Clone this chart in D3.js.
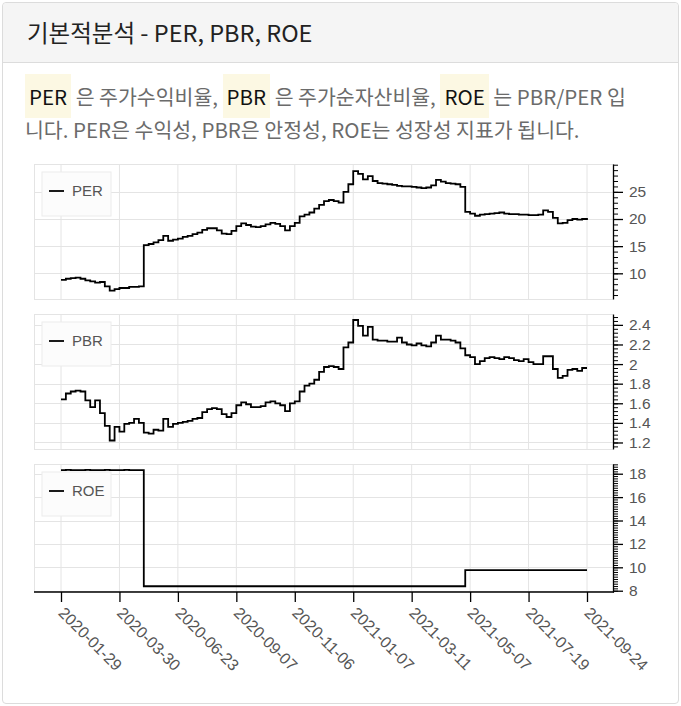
<!DOCTYPE html>
<html><head><meta charset="utf-8">
<script src="https://cdn.jsdelivr.net/npm/d3@7"></script>
<style>
html,body{margin:0;padding:0;background:#fff;}
body{width:681px;height:706px;position:relative;overflow:hidden;font-family:"Noto Sans CJK KR","Noto Sans",sans-serif;}
#card{position:absolute;left:2px;top:2px;width:675px;height:700px;border:1px solid #dcdcdc;border-radius:4px;}
#hdr{height:59px;background:#f5f5f5;border-bottom:1px solid #dcdcdc;border-radius:4px 4px 0 0;font-size:23.5px;line-height:59px;padding-left:24px;color:#222;white-space:nowrap;}
#para{position:absolute;left:22px;top:77px;font-size:20.5px;color:#6b6b6b;}
.ln{height:33px;line-height:33px;white-space:nowrap;}
.hl{background:#fcf8e3;color:#111;padding:7px 4px;}
svg{position:absolute;left:0;top:0;}
</style></head>
<body>
<div id="card">
  <div id="hdr">기본적분석 - PER, PBR, ROE</div>
  <div id="para">
    <div class="ln"><span class="hl">PER</span> 은 주가수익비율, <span class="hl">PBR</span> 은 주가순자산비율, <span class="hl">ROE</span> 는 PBR/PER 입</div>
    <div class="ln">니다. PER은 수익성, PBR은 안정성, ROE는 성장성 지표가 됩니다.</div>
  </div>
</div>
<svg id="chart" width="681" height="706"></svg>
<script>
// ---- data (one value per sampled trading day) ----
const dateLabels = ["2020-01-29","2020-03-30","2020-06-23","2020-09-07","2020-11-06","2021-01-07","2021-03-11","2021-05-07","2021-07-19","2021-09-24"];
const perValues = [8.8,9.0,9.1,9.2,9.0,8.7,8.5,8.3,8.4,7.6,
6.8,7.1,7.3,7.3,7.5,7.5,7.6,15.2,15.4,15.7,
16.1,16.9,16.0,16.2,16.4,16.7,16.9,17.2,17.5,18.0,
18.3,18.3,17.9,17.3,17.2,17.8,18.7,19.2,18.9,18.6,
18.5,18.7,19.0,19.3,19.1,18.7,17.9,18.7,19.3,20.5,
20.8,21.2,21.9,22.6,23.3,23.5,23.3,23.0,25.0,26.4,
28.8,28.3,27.3,27.9,27.0,26.6,26.5,26.4,26.3,26.1,
26.0,26.0,25.9,25.8,25.7,25.8,26.2,27.2,26.9,26.6,
26.5,26.4,25.9,21.3,21.0,20.6,20.8,20.9,21.0,21.1,
21.2,21.0,20.9,20.9,20.8,20.8,20.7,20.7,20.8,21.6,
21.3,20.2,19.2,19.3,19.8,20.0,19.9,20.0,20.2];
const pbrValues = [1.64,1.70,1.72,1.73,1.72,1.63,1.56,1.63,1.50,1.37,
1.22,1.36,1.31,1.39,1.40,1.44,1.40,1.30,1.29,1.33,
1.32,1.44,1.36,1.39,1.40,1.41,1.42,1.44,1.45,1.51,
1.54,1.55,1.54,1.49,1.46,1.50,1.58,1.61,1.59,1.56,
1.56,1.57,1.61,1.62,1.60,1.58,1.52,1.60,1.62,1.72,
1.78,1.80,1.84,1.92,1.97,1.98,1.97,1.95,2.17,2.22,
2.45,2.39,2.29,2.38,2.25,2.24,2.24,2.23,2.23,2.27,
2.22,2.20,2.19,2.21,2.19,2.18,2.22,2.29,2.25,2.25,
2.24,2.22,2.16,2.09,2.07,2.00,2.03,2.06,2.07,2.06,
2.05,2.07,2.06,2.04,2.03,2.05,2.02,2.00,2.00,2.08,
2.08,1.95,1.86,1.88,1.94,1.95,1.93,1.96,1.96];
const roeValues = [18.3,18.32,18.3,18.31,18.3,18.32,18.3,18.31,18.3,18.32,
18.3,18.31,18.3,18.32,18.3,18.31,18.3,8.38,8.38,8.38,
8.38,8.38,8.38,8.38,8.38,8.38,8.38,8.38,8.38,8.38,
8.38,8.38,8.38,8.38,8.38,8.38,8.38,8.38,8.38,8.38,
8.38,8.38,8.38,8.38,8.38,8.38,8.38,8.38,8.38,8.38,
8.38,8.38,8.38,8.38,8.38,8.38,8.38,8.38,8.38,8.38,
8.38,8.38,8.38,8.38,8.38,8.38,8.38,8.38,8.38,8.38,
8.38,8.38,8.38,8.38,8.38,8.38,8.38,8.38,8.38,8.38,
8.38,8.38,8.38,9.76,9.76,9.76,9.76,9.76,9.76,9.76,
9.76,9.76,9.76,9.76,9.76,9.76,9.76,9.76,9.76,9.76,
9.76,9.76,9.76,9.76,9.76,9.76,9.76,9.76,9.76];
const perTicks = [10,15,20,25];
const pbrTicks = [1.2,1.4,1.6,1.8,2,2.2,2.4];
const roeTicks = [8,10,12,14,16,18];

// ---- layout ----
const svg = d3.select("#chart");
const X0 = 34, X1 = 613;
const step = (perValues.length - 1) / (dateLabels.length - 1);
const tickIdx = dateLabels.map((d,i) => i*step);
const x = d3.scaleLinear().domain([0, perValues.length-1]).range([61, 587]);
const gridColor = "#e4e4e4";
const FONT = "'Liberation Sans', Arial, sans-serif";

const panels = [
  {name:"PER", data:perValues, top:164, bottom:299, domain:[5.27,30.13], ticks:perTicks, minor:1, fmt:d3.format("d")},
  {name:"PBR", data:pbrValues, top:314, bottom:449, domain:[1.1335,2.511], ticks:pbrTicks, minor:0.04, fmt:d=>String(+d.toFixed(1))},
  {name:"ROE", data:roeValues, top:464, bottom:592, domain:[7.89,18.83], ticks:roeTicks, minor:0.2, fmt:d3.format("d")}
];

panels.forEach((p, pi) => {
  const y = d3.scaleLinear().domain(p.domain).range([p.bottom, p.top]);
  const g = svg.append("g");
  g.selectAll(".vg").data(tickIdx).join("line")
    .attr("x1", d=>x(d)).attr("x2", d=>x(d)).attr("y1", p.top).attr("y2", p.bottom)
    .attr("stroke", gridColor).attr("stroke-width", 1);
  g.selectAll(".hg").data(p.ticks).join("line")
    .attr("x1", X0).attr("x2", X1).attr("y1", d=>Math.round(y(d))+0.5).attr("y2", d=>Math.round(y(d))+0.5)
    .attr("stroke", gridColor).attr("stroke-width", 1);
  g.append("line").attr("x1", X0).attr("x2", X1).attr("y1", p.top+0.5).attr("y2", p.top+0.5).attr("stroke", gridColor);
  g.append("line").attr("x1", X0+0.5).attr("x2", X0+0.5).attr("y1", p.top).attr("y2", p.bottom).attr("stroke", gridColor);
  if (pi < 2) g.append("line").attr("x1", X0).attr("x2", X1).attr("y1", p.bottom+0.5).attr("y2", p.bottom+0.5).attr("stroke", gridColor);

  const line = d3.line().x((d,i)=>x(i)).y(d=>y(d)).curve(d3.curveStepAfter);
  g.append("path").datum(p.data).attr("d", line)
    .attr("fill","none").attr("stroke","#000").attr("stroke-width",1.8).attr("stroke-linejoin","miter");

  const k0 = Math.ceil(p.domain[0]/p.minor), k1 = Math.floor(p.domain[1]/p.minor);
  const minorVals = d3.range(k0, k1+1).map(k => +(k*p.minor).toFixed(3));
  const minorAxis = d3.axisRight(y).tickValues(minorVals).tickSize(5).tickSizeOuter(0).tickFormat("");
  const ma = g.append("g").attr("transform", `translate(${X1},0)`).call(minorAxis);
  ma.select(".domain").remove();
  ma.selectAll("line").attr("stroke","#000");
  const axis = d3.axisRight(y).tickValues(p.ticks).tickSize(10).tickSizeOuter(0).tickPadding(6).tickFormat(p.fmt);
  const ax = g.append("g").attr("transform", `translate(${X1},0)`).call(axis);
  ax.select(".domain").attr("stroke","#000").attr("stroke-width",1.3);
  ax.selectAll("line").attr("stroke","#000").attr("stroke-width",1.3);
  ax.selectAll("text").attr("fill","#555").style("font-family", FONT).style("font-size","15.5px");

  const lg = g.append("g").attr("transform", `translate(42,${p.top+8})`);
  lg.append("rect").attr("width",69).attr("height",44).attr("fill","#fcfcfc").attr("stroke","#ececec");
  lg.append("line").attr("x1",7).attr("x2",22).attr("y1",19).attr("y2",19).attr("stroke","#000").attr("stroke-width",1.8);
  lg.append("text").attr("x",30).attr("y",19).attr("dy","0.36em").text(p.name)
    .attr("fill","#555").style("font-family", FONT).style("font-size","15px");
});

const xAxis = d3.axisBottom(x).tickValues(tickIdx).tickSize(10).tickFormat((d,i)=>dateLabels[i]);
const xg = svg.append("g").attr("transform","translate(0,592)").call(xAxis);
xg.select(".domain").remove();
xg.selectAll("line").attr("stroke","#000").attr("stroke-width",1.3);
xg.selectAll("text")
  .attr("y",0).attr("dy",0)
  .attr("transform","translate(-4,22) rotate(45)")
  .attr("text-anchor","start")
  .attr("fill","#555").style("font-family", FONT).style("font-size","16px");
svg.append("line").attr("x1",X0).attr("x2",X1+1).attr("y1",592).attr("y2",592).attr("stroke","#000").attr("stroke-width",1.3);
</script>
</body></html>
